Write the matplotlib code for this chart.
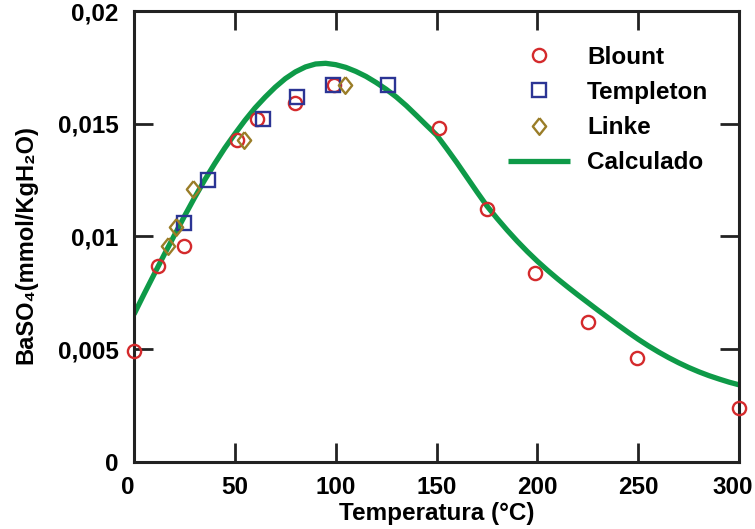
import matplotlib
matplotlib.use('Agg')
import matplotlib.pyplot as plt
import matplotlib.transforms as mtransforms

plt.rcParams['font.family'] = ['Liberation Sans', 'DejaVu Sans']
plt.rcParams['font.weight'] = 'bold'

# Blount (circles)
blount_t = [0, 12, 25, 51, 61, 80, 99, 151, 175, 199, 225, 249.5, 300]
blount_c = [0.0049, 0.0087, 0.0096, 0.0143, 0.0152, 0.0159, 0.0167, 0.0148,
            0.0112, 0.0084, 0.0062, 0.0046, 0.0024]

# Templeton (squares)
templeton_t = [25, 36.5, 64, 81, 98.5, 126]
templeton_c = [0.0106, 0.0125, 0.0152, 0.0162, 0.0167, 0.0167]

# Linke (diamonds)
linke_t = [17, 21, 29, 54.5, 104.5]
linke_c = [0.0096, 0.0104, 0.0121, 0.0143, 0.0167]

# Calculado (curve, every 5 degC)
calc_t = list(range(0, 305, 5))
calc_c = [6.55, 7.45, 8.33, 9.2, 10.05, 10.9, 11.72, 12.5, 13.23, 13.92,
          14.55, 15.15, 15.7, 16.18, 16.62, 17.0, 17.3, 17.52, 17.65, 17.68,
          17.62, 17.5, 17.32, 17.1, 16.83, 16.53, 16.19, 15.8, 15.37, 14.93,
          14.5, 13.9, 13.28, 12.63, 11.98, 11.35, 10.8, 10.28, 9.79, 9.33,
          8.9, 8.5, 8.12, 7.76, 7.41, 7.07, 6.73, 6.4, 6.07, 5.75,
          5.44, 5.15, 4.88, 4.63, 4.4, 4.19, 4.0, 3.83, 3.68, 3.54, 3.42]
calc_c = [v / 1000 for v in calc_c]

xticks = [0, 50, 100, 150, 200, 250, 300]
yticks = [0, 0.005, 0.01, 0.015, 0.02]
yticklabels = ['0', '0,005', '0,01', '0,015', '0,02']

fig = plt.figure(figsize=(7.55, 5.29), dpi=100)
ax = fig.add_axes([0.1775, 0.1267, 0.8015, 0.8525])

ax.plot(blount_t, blount_c, 'o', ms=9.5, mfc='none', mec='#d42a2c', mew=1.7,
        label='Blount', clip_on=False, zorder=3)
ax.plot(templeton_t, templeton_c, 's', ms=9.5, mfc='none', mec='#2b3494', mew=1.7,
        label='Templeton', zorder=3)
diamond = [(0, 1), (0.8, 0), (0, -1), (-0.8, 0), (0, 1)]
ax.plot(linke_t, linke_c, marker=diamond, ls='none', ms=12, mfc='none',
        mec='#9a7d28', mew=1.7, label='Linke', zorder=3)
ax.plot(calc_t, calc_c, '-', color='#0e9a48', lw=3.8, label='Calculado',
        zorder=2, solid_capstyle='butt')

ax.set_xlim(0, 300)
ax.set_ylim(0, 0.02)
ax.set_xticks(xticks)
ax.set_yticks(yticks)
ax.set_yticklabels(yticklabels)

for s in ax.spines.values():
    s.set_linewidth(2.2)
    s.set_color('#222222')
ax.tick_params(direction='in', length=14, width=2, color='#222222',
               labelsize=17.5, top=True, right=True)
ax.tick_params(axis='x', pad=10)
ax.tick_params(axis='y', pad=11)

# end labels sit a bit left of their ticks in the original
xl = ax.get_xticklabels()
shift = mtransforms.ScaledTranslation(-6 / 100, 0, fig.dpi_scale_trans)
for lab in (xl[0], xl[-1]):
    lab.set_transform(lab.get_transform() + shift)

ax.set_xlabel('Temperatura (°C)', fontsize=17.5, fontweight='bold', labelpad=2)
ax.set_ylabel('BaSO₄(mmol/KgH₂O)', fontsize=17, fontweight='bold')
ax.yaxis.set_label_coords(-0.160, 0.481)

leg = ax.legend(loc='upper left', bbox_to_anchor=(0.618, 0.923), frameon=False,
                fontsize=17.5, handlelength=2.55, handletextpad=0.7,
                labelspacing=0.5, borderpad=0, borderaxespad=0)

fig.savefig('out.png', dpi=100)
